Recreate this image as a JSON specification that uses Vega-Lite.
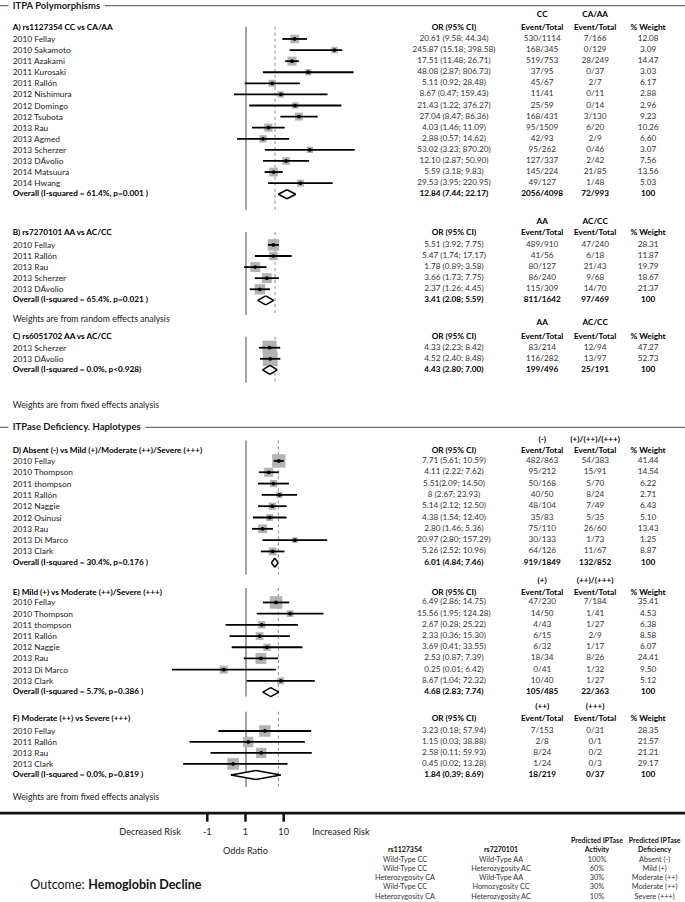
{
"$schema":"https://vega.github.io/schema/vega-lite/v6.json",
"width":685,"height":902,"padding":0,"autosize":{"type":"none"},
"background":"white",
"config":{"view":{"stroke":null},"font":"Lato","axis":{"disable":true},"legend":{"disable":true}},
"datasets":{
"table":[
{"sec":"A","line":0.85,"kind":"head","ev1":"CC","ev2":"CA/AA"},
{"sec":"A","line":2,"kind":"head","label":"A) rs1127354 CC vs CA/AA","ortxt":"OR (95% CI)","ev1":"Event/Total","ev2":"Event/Total","wtxt":"% Weight"},
{"sec":"A","line":3,"kind":"study","label":"2010 Fellay","est":20.61,"lo":9.58,"hi":44.34,"ortxt":"20.61 (9.58; 44.34)","ev1":"530/1114","ev2":"7/166","wt":12.08,"wtxt":"12.08"},
{"sec":"A","line":4,"kind":"study","label":"2010 Sakamoto","est":245.87,"lo":15.18,"hi":398.58,"ortxt":"245.87 (15.18; 398.58)","ev1":"168/345","ev2":"0/129","wt":3.09,"wtxt":"3.09"},
{"sec":"A","line":5,"kind":"study","label":"2011 Azakami","est":17.51,"lo":11.48,"hi":26.71,"ortxt":"17.51 (11.48; 26.71)","ev1":"519/753","ev2":"28/249","wt":14.47,"wtxt":"14.47"},
{"sec":"A","line":6,"kind":"study","label":"2011 Kurosaki","est":48.08,"lo":2.87,"hi":806.73,"ortxt":"48.08 (2.87; 806.73)","ev1":"37/95","ev2":"0/37","wt":3.03,"wtxt":"3.03"},
{"sec":"A","line":7,"kind":"study","label":"2011 Rallón","est":5.11,"lo":0.92,"hi":28.48,"ortxt":"5.11 (0.92; 28.48)","ev1":"45/67","ev2":"2/7","wt":6.17,"wtxt":"6.17"},
{"sec":"A","line":8,"kind":"study","label":"2012 Nishimura","est":8.67,"lo":0.47,"hi":159.43,"ortxt":"8.67 (0.47; 159.43)","ev1":"11/41","ev2":"0/11","wt":2.88,"wtxt":"2.88"},
{"sec":"A","line":9,"kind":"study","label":"2012 Domingo","est":21.43,"lo":1.22,"hi":376.27,"ortxt":"21.43 (1.22; 376.27)","ev1":"25/59","ev2":"0/14","wt":2.96,"wtxt":"2.96"},
{"sec":"A","line":10,"kind":"study","label":"2012 Tsubota","est":27.04,"lo":8.47,"hi":86.36,"ortxt":"27.04 (8.47; 86.36)","ev1":"168/431","ev2":"3/130","wt":9.23,"wtxt":"9.23"},
{"sec":"A","line":11,"kind":"study","label":"2013 Rau","est":4.03,"lo":1.46,"hi":11.09,"ortxt":"4.03 (1.46; 11.09)","ev1":"95/1509","ev2":"6/20","wt":10.26,"wtxt":"10.26"},
{"sec":"A","line":12,"kind":"study","label":"2013 Agmed","est":2.88,"lo":0.57,"hi":14.62,"ortxt":"2.88 (0.57; 14.62)","ev1":"42/93","ev2":"2/9","wt":6.6,"wtxt":"6.60"},
{"sec":"A","line":13,"kind":"study","label":"2013 Scherzer","est":53.02,"lo":3.23,"hi":870.2,"ortxt":"53.02 (3.23; 870.20)","ev1":"95/262","ev2":"0/46","wt":3.07,"wtxt":"3.07"},
{"sec":"A","line":14,"kind":"study","label":"2013 DÁvolio","est":12.1,"lo":2.87,"hi":50.9,"ortxt":"12.10 (2.87; 50.90)","ev1":"127/337","ev2":"2/42","wt":7.56,"wtxt":"7.56"},
{"sec":"A","line":15,"kind":"study","label":"2014 Matsuura","est":5.59,"lo":3.18,"hi":9.83,"ortxt":"5.59 (3.18; 9.83)","ev1":"145/224","ev2":"21/85","wt":13.56,"wtxt":"13.56"},
{"sec":"A","line":16,"kind":"study","label":"2014 Hwang","est":29.53,"lo":3.95,"hi":220.95,"ortxt":"29.53 (3.95; 220.95)","ev1":"49/127","ev2":"1/48","wt":5.03,"wtxt":"5.03"},
{"sec":"A","line":17,"kind":"overall","label":"Overall (I-squared = 61.4%, p=0.001 )","est":12.84,"lo":7.44,"hi":22.17,"ortxt":"12.84 (7.44; 22.17)","ev1":"2056/4098","ev2":"72/993","wt":100,"wtxt":"100"},
{"sec":"B","line":19.48,"kind":"head","ev1":"AA","ev2":"AC/CC"},
{"sec":"B","line":20.52,"kind":"head","label":"B) rs7270101 AA vs AC/CC","ortxt":"OR (95% CI)","ev1":"Event/Total","ev2":"Event/Total","wtxt":"% Weight"},
{"sec":"B","line":21.57,"kind":"study","label":"2010 Fellay","est":5.51,"lo":3.92,"hi":7.75,"ortxt":"5.51 (3.92; 7.75)","ev1":"489/910","ev2":"47/240","wt":28.31,"wtxt":"28.31"},
{"sec":"B","line":22.57,"kind":"study","label":"2011 Rallón","est":5.47,"lo":1.74,"hi":17.17,"ortxt":"5.47 (1.74; 17.17)","ev1":"41/56","ev2":"6/18","wt":11.87,"wtxt":"11.87"},
{"sec":"B","line":23.57,"kind":"study","label":"2013 Rau","est":1.78,"lo":0.89,"hi":3.58,"ortxt":"1.78 (0.89; 3.58)","ev1":"80/127","ev2":"21/43","wt":19.79,"wtxt":"19.79"},
{"sec":"B","line":24.57,"kind":"study","label":"2013 Scherzer","est":3.66,"lo":1.73,"hi":7.75,"ortxt":"3.66 (1.73; 7.75)","ev1":"86/240","ev2":"9/68","wt":18.67,"wtxt":"18.67"},
{"sec":"B","line":25.57,"kind":"study","label":"2013 DÁvolio","est":2.37,"lo":1.26,"hi":4.45,"ortxt":"2.37 (1.26; 4.45)","ev1":"115/309","ev2":"14/70","wt":21.37,"wtxt":"21.37"},
{"sec":"B","line":26.57,"kind":"overall","label":"Overall (I-squared = 65.4%, p=0.021 )","est":3.41,"lo":2.08,"hi":5.59,"ortxt":"3.41 (2.08; 5.59)","ev1":"811/1642","ev2":"97/469","wt":100,"wtxt":"100"},
{"sec":"C","line":28.64,"kind":"head","ev1":"AA","ev2":"AC/CC"},
{"sec":"C","line":29.83,"kind":"head","label":"C) rs6051702 AA vs AC/CC","ortxt":"OR (95% CI)","ev1":"Event/Total","ev2":"Event/Total","wtxt":"% Weight"},
{"sec":"C","line":30.84,"kind":"study","label":"2013 Scherzer","est":4.33,"lo":2.23,"hi":8.42,"ortxt":"4.33 (2.23; 8.42)","ev1":"83/214","ev2":"12/94","wt":47.27,"wtxt":"47.27"},
{"sec":"C","line":31.84,"kind":"study","label":"2013 DÁvolio","est":4.52,"lo":2.4,"hi":8.48,"ortxt":"4.52 (2.40; 8.48)","ev1":"116/282","ev2":"13/97","wt":52.73,"wtxt":"52.73"},
{"sec":"C","line":32.84,"kind":"overall","label":"Overall (I-squared = 0.0%, p<0.928)","est":4.43,"lo":2.8,"hi":7.0,"ortxt":"4.43 (2.80; 7.00)","ev1":"199/496","ev2":"25/191","wt":100,"wtxt":"100"},
{"sec":"D","line":39.16,"kind":"head","ev1":"(-)","ev2":"(+)/(++)/(+++)"},
{"sec":"D","line":40.15,"kind":"head","label":"D) Absent (-) vs Mild (+)/Moderate (++)/Severe (+++)","ortxt":"OR (95% CI)","ev1":"Event/Total","ev2":"Event/Total","wtxt":"% Weight"},
{"sec":"D","line":41.05,"kind":"study","label":"2010 Fellay","est":7.71,"lo":5.61,"hi":10.59,"ortxt":"7.71 (5.61; 10.59)","ev1":"482/863","ev2":"54/383","wt":41.44,"wtxt":"41.44"},
{"sec":"D","line":42.07,"kind":"study","label":"2010 Thompson","est":4.11,"lo":2.22,"hi":7.62,"ortxt":"4.11 (2.22; 7.62)","ev1":"95/212","ev2":"15/91","wt":14.54,"wtxt":"14.54"},
{"sec":"D","line":43.09,"kind":"study","label":"2011 thompson","est":5.51,"lo":2.09,"hi":14.5,"ortxt":"5.51(2.09; 14.50)","ev1":"50/168","ev2":"5/70","wt":6.22,"wtxt":"6.22"},
{"sec":"D","line":44.11,"kind":"study","label":"2011 Rallón","est":8,"lo":2.67,"hi":23.93,"ortxt":"8 (2.67; 23.93)","ev1":"40/50","ev2":"8/24","wt":2.71,"wtxt":"2.71"},
{"sec":"D","line":45.13,"kind":"study","label":"2012 Naggie","est":5.14,"lo":2.12,"hi":12.5,"ortxt":"5.14 (2.12; 12.50)","ev1":"48/104","ev2":"7/49","wt":6.43,"wtxt":"6.43"},
{"sec":"D","line":46.15,"kind":"study","label":"2012 Osinusi","est":4.38,"lo":1.54,"hi":12.4,"ortxt":"4.38 (1.54; 12.40)","ev1":"35/83","ev2":"5/35","wt":5.1,"wtxt":"5.10"},
{"sec":"D","line":47.17,"kind":"study","label":"2013 Rau","est":2.8,"lo":1.46,"hi":5.36,"ortxt":"2.80 (1.46; 5.36)","ev1":"75/110","ev2":"26/60","wt":13.43,"wtxt":"13.43"},
{"sec":"D","line":48.19,"kind":"study","label":"2013 Di Marco","est":20.97,"lo":2.8,"hi":157.29,"ortxt":"20.97 (2.80; 157.29)","ev1":"30/133","ev2":"1/73","wt":1.25,"wtxt":"1.25"},
{"sec":"D","line":49.21,"kind":"study","label":"2013 Clark","est":5.26,"lo":2.52,"hi":10.96,"ortxt":"5.26 (2.52; 10.96)","ev1":"64/126","ev2":"11/67","wt":8.87,"wtxt":"8.87"},
{"sec":"D","line":50.23,"kind":"overall","label":"Overall (I-squared = 30.4%, p=0.176 )","est":6.01,"lo":4.84,"hi":7.46,"ortxt":"6.01 (4.84; 7.46)","ev1":"919/1849","ev2":"132/852","wt":100,"wtxt":"100"},
{"sec":"E","line":51.9,"kind":"head","ev1":"(+)","ev2":"(++)/(+++)"},
{"sec":"E","line":52.96,"kind":"head","label":"E) Mild (+) vs Moderate (++)/Severe (+++)","ortxt":"OR (95% CI)","ev1":"Event/Total","ev2":"Event/Total","wtxt":"% Weight"},
{"sec":"E","line":53.81,"kind":"study","label":"2010 Fellay","est":6.49,"lo":2.86,"hi":14.75,"ortxt":"6.49 (2.86; 14.75)","ev1":"47/230","ev2":"7/184","wt":35.41,"wtxt":"35.41"},
{"sec":"E","line":54.82,"kind":"study","label":"2010 Thompson","est":15.56,"lo":1.95,"hi":124.28,"ortxt":"15.56 (1.95; 124.28)","ev1":"14/50","ev2":"1/41","wt":4.53,"wtxt":"4.53"},
{"sec":"E","line":55.83,"kind":"study","label":"2011 thompson","est":2.67,"lo":0.28,"hi":25.22,"ortxt":"2.67 (0.28; 25.22)","ev1":"4/43","ev2":"1/27","wt":6.38,"wtxt":"6.38"},
{"sec":"E","line":56.84,"kind":"study","label":"2011 Rallón","est":2.33,"lo":0.36,"hi":15.3,"ortxt":"2.33 (0.36; 15.30)","ev1":"6/15","ev2":"2/9","wt":8.58,"wtxt":"8.58"},
{"sec":"E","line":57.85,"kind":"study","label":"2012 Naggie","est":3.69,"lo":0.41,"hi":33.55,"ortxt":"3.69 (0.41; 33.55)","ev1":"6/32","ev2":"1/17","wt":6.07,"wtxt":"6.07"},
{"sec":"E","line":58.86,"kind":"study","label":"2013 Rau","est":2.53,"lo":0.87,"hi":7.39,"ortxt":"2.53 (0.87; 7.39)","ev1":"18/34","ev2":"8/26","wt":24.41,"wtxt":"24.41"},
{"sec":"E","line":59.87,"kind":"study","label":"2013 Di Marco","est":0.25,"lo":0.01,"hi":6.42,"ortxt":"0.25 (0.01; 6.42)","ev1":"0/41","ev2":"1/32","wt":9.5,"wtxt":"9.50"},
{"sec":"E","line":60.88,"kind":"study","label":"2013 Clark","est":8.67,"lo":1.04,"hi":72.32,"ortxt":"8.67 (1.04; 72.32)","ev1":"10/40","ev2":"1/27","wt":5.12,"wtxt":"5.12"},
{"sec":"E","line":61.89,"kind":"overall","label":"Overall (I-squared = 5.7%, p=0.386 )","est":4.68,"lo":2.83,"hi":7.74,"ortxt":"4.68 (2.83; 7.74)","ev1":"105/485","ev2":"22/363","wt":100,"wtxt":"100"},
{"sec":"F","line":63.26,"kind":"head","ev1":"(++)","ev2":"(+++)"},
{"sec":"F","line":64.32,"kind":"head","label":"F) Moderate (++) vs Severe (+++)","ortxt":"OR (95% CI)","ev1":"Event/Total","ev2":"Event/Total","wtxt":"% Weight"},
{"sec":"F","line":65.4,"kind":"study","label":"2010 Fellay","est":3.23,"lo":0.18,"hi":57.94,"ortxt":"3.23 (0.18; 57.94)","ev1":"7/153","ev2":"0/31","wt":28.35,"wtxt":"28.35"},
{"sec":"F","line":66.39,"kind":"study","label":"2011 Rallón","est":1.15,"lo":0.03,"hi":38.88,"ortxt":"1.15 (0.03; 38.88)","ev1":"2/8","ev2":"0/1","wt":21.57,"wtxt":"21.57"},
{"sec":"F","line":67.38,"kind":"study","label":"2013 Rau","est":2.58,"lo":0.11,"hi":59.93,"ortxt":"2.58 (0.11; 59.93)","ev1":"8/24","ev2":"0/2","wt":21.21,"wtxt":"21.21"},
{"sec":"F","line":68.37,"kind":"study","label":"2013 Clark","est":0.45,"lo":0.02,"hi":13.28,"ortxt":"0.45 (0.02; 13.28)","ev1":"1/24","ev2":"0/3","wt":29.17,"wtxt":"29.17"},
{"sec":"F","line":69.36,"kind":"overall","label":"Overall (I-squared = 0.0%, p=0.819 )","est":1.84,"lo":0.39,"hi":8.69,"ortxt":"1.84 (0.39; 8.69)","ev1":"18/219","ev2":"0/37","wt":100,"wtxt":"100"}
],
"notes":[
{"line":0,"txt":"ITPA Polymorphisms","kind":"section"},
{"line":28.28,"txt":"Weights are from random effects analysis","kind":"note"},
{"line":36.0,"txt":"Weights are from fixed effects analysis","kind":"note"},
{"line":38.02,"txt":"ITPase Deficiency. Haplotypes","kind":"section"},
{"line":71.38,"txt":"Weights are from fixed effects analysis","kind":"note"},
{"line":72.8,"txt":"","kind":"divider"}
],
"secs":[
{"sec":"A","top":1.9,"bottom":18.4,"refline":6.1},
{"sec":"B","top":20.4,"bottom":27.9,"refline":6.1},
{"sec":"C","top":29.85,"bottom":34.0,"refline":6.1},
{"sec":"D","top":39.2,"bottom":51.3,"refline":7.5},
{"sec":"E","top":52.5,"bottom":62.3,"refline":7.5},
{"sec":"F","top":63.66,"bottom":70.45,"refline":7.5}
],
"risk":[
{"pos":"Decreased Risk","txt":"Decreased Risk","line":74.48,"kind":"label"},
{"pos":"-1","txt":"-1","line":74.48,"kind":"tick"},
{"pos":"1","txt":"1","line":74.48,"kind":"tick"},
{"pos":"10","txt":"10","line":74.48,"kind":"tick"},
{"pos":"Increased Risk","txt":"Increased Risk","line":74.48,"kind":"label"},
{"pos":"1","txt":"Odds Ratio","line":76.22,"kind":"title"}
],
"legend":[
{"line":75.29,"kind":"head","activity":"Predicted IPTase","deficiency":"Predicted IPTase"},
{"line":76.13,"kind":"head","snp1":"rs1127354","snp2":"rs7270101","activity":"Activity","deficiency":"Deficiency"},
{"line":76.99,"kind":"row","snp1":"Wild-Type CC","snp2":"Wild-Type AA","activity":"100%","deficiency":"Absent (-)"},
{"line":77.83,"kind":"row","snp1":"Wild-Type CC","snp2":"Heterozygosity AC","activity":"60%","deficiency":"Mild (+)"},
{"line":78.67,"kind":"row","snp1":"Heterozygosity CA","snp2":"Wild-Type AA","activity":"30%","deficiency":"Moderate (++)"},
{"line":79.51,"kind":"row","snp1":"Wild-Type CC","snp2":"Homozygosity CC","activity":"30%","deficiency":"Moderate (++)"},
{"line":80.35,"kind":"row","snp1":"Heterozygosity CA","snp2":"Heterozygosity AC","activity":"10%","deficiency":"Severe (+++)"}
],
"outcome":[
{"txt":"Outcome:","kind":"plain","line":79.29},
{"txt":"Hemoglobin Decline","kind":"bold","line":79.29}
]
},
"layer":[
{"data":{"name":"notes"},"transform":[{"filter":"datum.kind === 'section'"}],"mark":{"type":"rule","color":"#6e6e6e","strokeWidth":1.3},"encoding":{"y":{"field":"line","type":"quantitative","scale":{"domain":[-0.514,80.82],"reverse":true,"nice":false,"zero":false}}}},
{"data":{"name":"notes"},"transform":[{"filter":"datum.kind === 'divider'"}],"mark":{"type":"rule","color":"#111111","strokeWidth":2.7},"encoding":{"y":{"field":"line","type":"quantitative","scale":{"domain":[-0.514,80.82],"reverse":true,"nice":false,"zero":false}}}},
{"layer":[
{"data":{"name":"secs"},"mark":{"type":"rule","color":"#8c8c8c","strokeWidth":1.6},"encoding":{"x":{"datum":1,"type":"quantitative","scale":{"type":"log","domain":[0.01,1000],"range":[172,357]}},"y":{"field":"top","type":"quantitative","scale":{"domain":[-0.514,80.82],"reverse":true,"nice":false,"zero":false}},"y2":{"field":"bottom"}}},
{"data":{"name":"secs"},"mark":{"type":"rule","color":"#8c8c8c","strokeWidth":1,"strokeDash":[3,3]},"encoding":{"x":{"field":"refline","type":"quantitative","scale":{"type":"log","domain":[0.01,1000],"range":[172,357]}},"y":{"field":"top","type":"quantitative","scale":{"domain":[-0.514,80.82],"reverse":true,"nice":false,"zero":false}},"y2":{"field":"bottom"}}},
{"data":{"name":"table"},"transform":[{"filter":"datum.kind === 'study'"}],"mark":{"type":"square","color":"#b3b3b3","opacity":1},"encoding":{"x":{"field":"est","type":"quantitative","scale":{"type":"log","domain":[0.01,1000],"range":[172,357]}},"y":{"field":"line","type":"quantitative","scale":{"domain":[-0.514,80.82],"reverse":true,"nice":false,"zero":false}},"size":{"field":"wt","type":"quantitative","scale":{"domain":[0,50],"range":[30,210]},"legend":null}}},
{"data":{"name":"table"},"transform":[{"filter":"datum.kind === 'study'"}],"mark":{"type":"rule","color":"black","strokeWidth":1.8},"encoding":{"x":{"field":"lo","type":"quantitative","scale":{"type":"log","domain":[0.01,1000],"range":[172,357]}},"x2":{"field":"hi"},"y":{"field":"line","type":"quantitative","scale":{"domain":[-0.514,80.82],"reverse":true,"nice":false,"zero":false}}}},
{"data":{"name":"table"},"transform":[{"filter":"datum.kind === 'study'"}],"mark":{"type":"circle","color":"black","size":14,"opacity":1},"encoding":{"x":{"field":"est","type":"quantitative","scale":{"type":"log","domain":[0.01,1000],"range":[172,357]}},"y":{"field":"line","type":"quantitative","scale":{"domain":[-0.514,80.82],"reverse":true,"nice":false,"zero":false}}}},
{"data":{"name":"table"},"transform":[{"filter":"datum.kind === 'overall'"},{"fold":["lo","est","hi"],"as":["dk","dv"]}],"mark":{"type":"trail","color":"white"},"encoding":{"x":{"field":"dv","type":"quantitative","scale":{"type":"log","domain":[0.01,1000],"range":[172,357]}},"y":{"field":"line","type":"quantitative","scale":{"domain":[-0.514,80.82],"reverse":true,"nice":false,"zero":false}},"detail":{"field":"sec"},"order":{"field":"dv","type":"quantitative"},"size":{"condition":{"test":"datum.dk === 'est'","value":9},"value":0}}},
{"data":{"name":"table"},"transform":[{"filter":"datum.kind === 'overall'"}],"mark":{"type":"rule","color":"black","strokeWidth":1.5,"y2Offset":-4.5},"encoding":{"x":{"field":"lo","type":"quantitative","scale":{"type":"log","domain":[0.01,1000],"range":[172,357]}},"x2":{"field":"est"},"y":{"field":"line","type":"quantitative","scale":{"domain":[-0.514,80.82],"reverse":true,"nice":false,"zero":false}},"y2":{"field":"line"}}},
{"data":{"name":"table"},"transform":[{"filter":"datum.kind === 'overall'"}],"mark":{"type":"rule","color":"black","strokeWidth":1.5,"y2Offset":4.5},"encoding":{"x":{"field":"lo","type":"quantitative","scale":{"type":"log","domain":[0.01,1000],"range":[172,357]}},"x2":{"field":"est"},"y":{"field":"line","type":"quantitative","scale":{"domain":[-0.514,80.82],"reverse":true,"nice":false,"zero":false}},"y2":{"field":"line"}}},
{"data":{"name":"table"},"transform":[{"filter":"datum.kind === 'overall'"}],"mark":{"type":"rule","color":"black","strokeWidth":1.5,"yOffset":-4.5},"encoding":{"x":{"field":"est","type":"quantitative","scale":{"type":"log","domain":[0.01,1000],"range":[172,357]}},"x2":{"field":"hi"},"y":{"field":"line","type":"quantitative","scale":{"domain":[-0.514,80.82],"reverse":true,"nice":false,"zero":false}},"y2":{"field":"line"}}},
{"data":{"name":"table"},"transform":[{"filter":"datum.kind === 'overall'"}],"mark":{"type":"rule","color":"black","strokeWidth":1.5,"yOffset":4.5},"encoding":{"x":{"field":"est","type":"quantitative","scale":{"type":"log","domain":[0.01,1000],"range":[172,357]}},"x2":{"field":"hi"},"y":{"field":"line","type":"quantitative","scale":{"domain":[-0.514,80.82],"reverse":true,"nice":false,"zero":false}},"y2":{"field":"line"}}}
]},
{"layer":[
{"data":{"name":"notes"},"transform":[{"filter":"datum.kind === 'section'"}],"mark":{"type":"text","align":"left","baseline":"middle","fontSize":9.5,"fontWeight":"bold","color":"white","stroke":"white","strokeWidth":10,"strokeJoin":"round"},"encoding":{"x":{"datum":"label","type":"nominal","scale":{"type":"point","domain":["label","t1","t2","t3","t4","t5","t6","t7","t8","t9","t10","t11","t12","t13","t14","t15","t16","t17","t18","t19","t20","t21","t22","t23","t24","ortxt","t26","t27","t28","t29","ev1","t31","t32","ev2","t34","t35","wtxt"],"range":[12.7,648.1],"padding":0}},"y":{"field":"line","type":"quantitative","scale":{"domain":[-0.514,80.82],"reverse":true,"nice":false,"zero":false}},"text":{"field":"txt"}}},
{"data":{"name":"notes"},"transform":[{"filter":"datum.kind === 'section'"}],"mark":{"type":"text","align":"left","baseline":"middle","fontSize":9.5,"fontWeight":"bold","color":"#1a1a1a"},"encoding":{"x":{"datum":"label","type":"nominal","scale":{"type":"point","domain":["label","t1","t2","t3","t4","t5","t6","t7","t8","t9","t10","t11","t12","t13","t14","t15","t16","t17","t18","t19","t20","t21","t22","t23","t24","ortxt","t26","t27","t28","t29","ev1","t31","t32","ev2","t34","t35","wtxt"],"range":[12.7,648.1],"padding":0}},"y":{"field":"line","type":"quantitative","scale":{"domain":[-0.514,80.82],"reverse":true,"nice":false,"zero":false}},"text":{"field":"txt"}}},
{"data":{"name":"notes"},"transform":[{"filter":"datum.kind === 'note'"}],"mark":{"type":"text","align":"left","baseline":"middle","fontSize":8.7,"color":"#222222"},"encoding":{"x":{"datum":"label","type":"nominal","scale":{"type":"point","domain":["label","t1","t2","t3","t4","t5","t6","t7","t8","t9","t10","t11","t12","t13","t14","t15","t16","t17","t18","t19","t20","t21","t22","t23","t24","ortxt","t26","t27","t28","t29","ev1","t31","t32","ev2","t34","t35","wtxt"],"range":[12.7,648.1],"padding":0}},"y":{"field":"line","type":"quantitative","scale":{"domain":[-0.514,80.82],"reverse":true,"nice":false,"zero":false}},"text":{"field":"txt"}}},
{"data":{"name":"table"},"transform":[{"filter":"datum.kind === 'study'"}],"mark":{"type":"text","align":"left","baseline":"middle","fontSize":8.4,"color":"#222222"},"encoding":{"x":{"datum":"label","type":"nominal","scale":{"type":"point","domain":["label","t1","t2","t3","t4","t5","t6","t7","t8","t9","t10","t11","t12","t13","t14","t15","t16","t17","t18","t19","t20","t21","t22","t23","t24","ortxt","t26","t27","t28","t29","ev1","t31","t32","ev2","t34","t35","wtxt"],"range":[12.7,648.1],"padding":0}},"y":{"field":"line","type":"quantitative","scale":{"domain":[-0.514,80.82],"reverse":true,"nice":false,"zero":false}},"text":{"field":"label"}}},
{"data":{"name":"table"},"transform":[{"filter":"datum.kind !== 'study' && isValid(datum.label)"}],"mark":{"type":"text","align":"left","baseline":"middle","fontSize":8.2,"fontWeight":"bold","color":"#000000"},"encoding":{"x":{"datum":"label","type":"nominal","scale":{"type":"point","domain":["label","t1","t2","t3","t4","t5","t6","t7","t8","t9","t10","t11","t12","t13","t14","t15","t16","t17","t18","t19","t20","t21","t22","t23","t24","ortxt","t26","t27","t28","t29","ev1","t31","t32","ev2","t34","t35","wtxt"],"range":[12.7,648.1],"padding":0}},"y":{"field":"line","type":"quantitative","scale":{"domain":[-0.514,80.82],"reverse":true,"nice":false,"zero":false}},"text":{"field":"label"}}},
{"data":{"name":"table"},"transform":[{"filter":"datum.kind === 'study'"},{"fold":["ortxt","ev1","ev2","wtxt"],"as":["col","txt"]},{"filter":"isValid(datum.txt)"}],"mark":{"type":"text","align":"center","baseline":"middle","fontSize":8.2,"color":"#333333"},"encoding":{"x":{"field":"col","type":"nominal","scale":{"type":"point","domain":["label","t1","t2","t3","t4","t5","t6","t7","t8","t9","t10","t11","t12","t13","t14","t15","t16","t17","t18","t19","t20","t21","t22","t23","t24","ortxt","t26","t27","t28","t29","ev1","t31","t32","ev2","t34","t35","wtxt"],"range":[12.7,648.1],"padding":0}},"y":{"field":"line","type":"quantitative","scale":{"domain":[-0.514,80.82],"reverse":true,"nice":false,"zero":false}},"text":{"field":"txt"}}},
{"data":{"name":"table"},"transform":[{"filter":"datum.kind !== 'study'"},{"fold":["ortxt","ev1","ev2","wtxt"],"as":["col","txt"]},{"filter":"isValid(datum.txt)"}],"mark":{"type":"text","align":"center","baseline":"middle","fontSize":8.2,"fontWeight":"bold","color":"#000000"},"encoding":{"x":{"field":"col","type":"nominal","scale":{"type":"point","domain":["label","t1","t2","t3","t4","t5","t6","t7","t8","t9","t10","t11","t12","t13","t14","t15","t16","t17","t18","t19","t20","t21","t22","t23","t24","ortxt","t26","t27","t28","t29","ev1","t31","t32","ev2","t34","t35","wtxt"],"range":[12.7,648.1],"padding":0}},"y":{"field":"line","type":"quantitative","scale":{"domain":[-0.514,80.82],"reverse":true,"nice":false,"zero":false}},"text":{"field":"txt"}}},
{"data":{"name":"outcome"},"transform":[{"filter":"datum.kind === 'plain'"}],"mark":{"type":"text","align":"left","baseline":"middle","fontSize":12.5,"color":"#111111"},"encoding":{"x":{"datum":"t1","type":"nominal","scale":{"type":"point","domain":["label","t1","t2","t3","t4","t5","t6","t7","t8","t9","t10","t11","t12","t13","t14","t15","t16","t17","t18","t19","t20","t21","t22","t23","t24","ortxt","t26","t27","t28","t29","ev1","t31","t32","ev2","t34","t35","wtxt"],"range":[12.7,648.1],"padding":0}},"y":{"field":"line","type":"quantitative","scale":{"domain":[-0.514,80.82],"reverse":true,"nice":false,"zero":false}},"text":{"field":"txt"}}},
{"data":{"name":"outcome"},"transform":[{"filter":"datum.kind === 'bold'"}],"mark":{"type":"text","align":"left","baseline":"middle","fontSize":12.5,"fontWeight":"bold","color":"#111111","dx":5},"encoding":{"x":{"datum":"t4","type":"nominal","scale":{"type":"point","domain":["label","t1","t2","t3","t4","t5","t6","t7","t8","t9","t10","t11","t12","t13","t14","t15","t16","t17","t18","t19","t20","t21","t22","t23","t24","ortxt","t26","t27","t28","t29","ev1","t31","t32","ev2","t34","t35","wtxt"],"range":[12.7,648.1],"padding":0}},"y":{"field":"line","type":"quantitative","scale":{"domain":[-0.514,80.82],"reverse":true,"nice":false,"zero":false}},"text":{"field":"txt"}}}
]},
{"layer":[
{"data":{"name":"risk"},"transform":[{"filter":"datum.kind === 'tick'"}],"mark":{"type":"rule","color":"#111111","strokeWidth":2.5},"encoding":{"x":{"field":"pos","type":"nominal","scale":{"type":"point","domain":["Decreased Risk","r1","r2","-1","r4","1","r6","10","r8","r9","Increased Risk"],"range":[150,341],"padding":0}},"y":{"datum":72.8,"type":"quantitative","scale":{"domain":[-0.514,80.82],"reverse":true,"nice":false,"zero":false}},"y2":{"datum":73.58}}},
{"data":{"name":"risk"},"mark":{"type":"text","align":"center","baseline":"middle","fontSize":9.2,"color":"#222222"},"encoding":{"x":{"field":"pos","type":"nominal","scale":{"type":"point","domain":["Decreased Risk","r1","r2","-1","r4","1","r6","10","r8","r9","Increased Risk"],"range":[150,341],"padding":0}},"y":{"field":"line","type":"quantitative","scale":{"domain":[-0.514,80.82],"reverse":true,"nice":false,"zero":false}},"text":{"field":"txt"}}}
]},
{"layer":[
{"data":{"name":"legend"},"transform":[{"filter":"datum.kind === 'head'"},{"fold":["snp1","snp2","activity","deficiency"],"as":["col","txt"]},{"filter":"isValid(datum.txt)"}],"mark":{"type":"text","align":"center","baseline":"middle","fontSize":7,"fontWeight":"bold","color":"#111111"},"encoding":{"x":{"field":"col","type":"nominal","scale":{"type":"point","domain":["snp1","b1","b2","b3","b4","snp2","b6","b7","b8","b9","activity","b11","b12","deficiency"],"range":[405,654.6],"padding":0}},"y":{"field":"line","type":"quantitative","scale":{"domain":[-0.514,80.82],"reverse":true,"nice":false,"zero":false}},"text":{"field":"txt"}}},
{"data":{"name":"legend"},"transform":[{"filter":"datum.kind === 'row'"},{"fold":["snp1","snp2","activity","deficiency"],"as":["col","txt"]},{"filter":"isValid(datum.txt)"}],"mark":{"type":"text","align":"center","baseline":"middle","fontSize":7.3,"color":"#333333"},"encoding":{"x":{"field":"col","type":"nominal","scale":{"type":"point","domain":["snp1","b1","b2","b3","b4","snp2","b6","b7","b8","b9","activity","b11","b12","deficiency"],"range":[405,654.6],"padding":0}},"y":{"field":"line","type":"quantitative","scale":{"domain":[-0.514,80.82],"reverse":true,"nice":false,"zero":false}},"text":{"field":"txt"}}}
]}
],
"resolve":{"scale":{"x":"independent"}}
}
